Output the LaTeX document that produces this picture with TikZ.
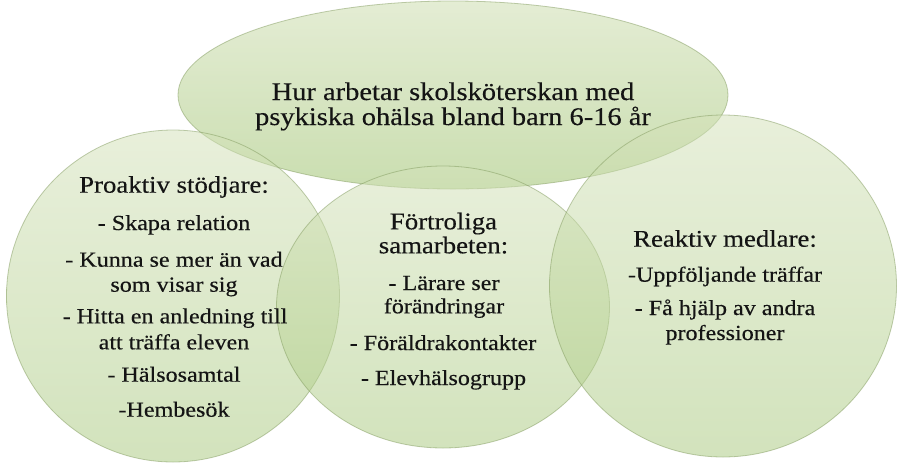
\documentclass[tikz,border=0pt]{standalone}
\usepackage{fontspec}
\setmainfont{Liberation Serif}[FakeStretch=1.12,FakeBold=0.35]
\usetikzlibrary{shapes.geometric}
\definecolor{vtop}{RGB}{212,226,186}
\definecolor{vbot}{RGB}{170,202,128}
\definecolor{vline}{RGB}{130,155,95}
\definecolor{ink}{RGB}{20,20,20}
\begin{document}
\begin{tikzpicture}[x=1pt,y=-1pt,
  venn/.style={ellipse, inner sep=0pt, outer sep=0pt, top color=vtop, bottom color=vbot,
    fill opacity=0.52, draw=vline, draw opacity=0.5, line width=0.8pt},
  toptxt/.style={anchor=base, text=ink, inner sep=0pt, font=\fontsize{25.4}{27}\selectfont},
  headtxt/.style={anchor=base, text=ink, inner sep=0pt, font=\fontsize{23.9}{25}\selectfont},
  itemtxt/.style={anchor=base, text=ink, inner sep=0pt, font=\fontsize{21.5}{23}\selectfont}]
\useasboundingbox (0,0) rectangle (906,475);
\fill[white] (0,0) rectangle (906,475);
% shapes
\node[venn, fill opacity=0.62, minimum width=550pt, minimum height=188pt] (top) at (453,95) {};
\node[venn, minimum width=333pt, minimum height=332pt] (left) at (173,296) {};
\node[venn, minimum width=333pt, minimum height=282pt] (mid) at (443,307) {};
\node[venn, minimum width=347pt, minimum height=342pt] (right) at (723,286) {};
% top text
\node[toptxt] (t1) at (453,100) {Hur arbetar skolsköterskan med};
\node[toptxt] (t2) at (453,125) {psykiska ohälsa bland barn 6-16 år};
% left text
\node[headtxt] (l0) at (174,192.7) {Proaktiv stödjare:};
\node[itemtxt] (l1) at (174,230) {- Skapa relation};
\node[itemtxt] (l2) at (174,266.7) {- Kunna se mer än vad};
\node[itemtxt] (l3) at (174,291.7) {som visar sig};
\node[itemtxt] (l4) at (175,323.3) {- Hitta en anledning till};
\node[itemtxt] (l5) at (174,349.3) {att träffa eleven};
\node[itemtxt] (l6) at (174,381.7) {- Hälsosamtal};
\node[itemtxt] (l7) at (174,416.7) {-Hembesök};
% middle text
\node[headtxt] (m0) at (443.5,229.3) {Förtroliga};
\node[headtxt] (m1) at (443.5,253.3) {samarbeten:};
\node[itemtxt] (m2) at (444,290) {- Lärare ser};
\node[itemtxt] (m3) at (444,313.3) {förändringar};
\node[itemtxt] (m4) at (443,350) {- Föräldrakontakter};
\node[itemtxt] (m5) at (443.5,385) {- Elevhälsogrupp};
% right text
\node[headtxt] (r0) at (725,246.7) {Reaktiv medlare:};
\node[itemtxt] (r1) at (725,281.7) {-Uppföljande träffar};
\node[itemtxt] (r2) at (725,315) {- Få hjälp av andra};
\node[itemtxt] (r3) at (725,340) {professioner};
\end{tikzpicture}
\end{document}
